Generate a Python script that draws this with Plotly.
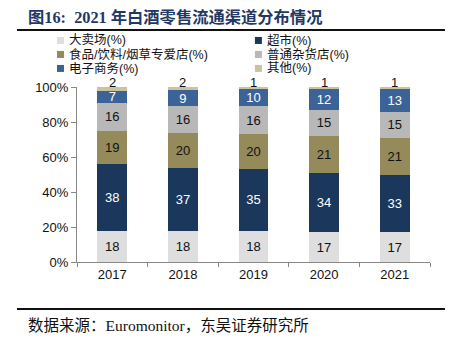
import plotly.graph_objects as go

years = ["2017", "2018", "2019", "2020", "2021"]

hypermarket = [18, 18, 18, 17, 17]
supermarket = [38, 37, 35, 34, 33]
specialist = [19, 20, 20, 21, 21]
grocery = [16, 16, 16, 15, 15]
ecommerce = [7, 9, 10, 12, 13]
others = [2, 2, 1, 1, 1]

series = [
    ("大卖场(%)", hypermarket, "#dedede", "#111111"),
    ("超市(%)", supermarket, "#1b375c", "#ffffff"),
    ("食品/饮料/烟草专爱店(%)", specialist, "#948a5a", "#111111"),
    ("普通杂货店(%)", grocery, "#b8b8b8", "#111111"),
    ("电子商务(%)", ecommerce, "#3b6398", "#ffffff"),
    ("其他(%)", others, "#cbc39d", "#111111"),
]

NUM_FONT = "Liberation Sans, Arial, sans-serif"
CJK_FONT = "Liberation Sans, Noto Sans CJK SC, sans-serif"

fig = go.Figure()
for i, (name, vals, color, tcolor) in enumerate(series):
    last = i == len(series) - 1
    fig.add_trace(go.Bar(
        x=years, y=vals, name=name,
        marker=dict(color=color, line=dict(width=0)),
        text=None if last else [str(v) for v in vals],
        textposition="none" if last else "inside",
        insidetextanchor="middle",
        textangle=0,
        textfont=dict(color=tcolor, size=13, family=NUM_FONT),
        cliponaxis=False,
        constraintext="none",
        showlegend=False,
    ))

# value labels for the thin top segment, sitting on the top of each stack
for k, v in enumerate(others):
    fig.add_annotation(x=k, y=100, text=str(v), showarrow=False,
                       xref="x", yref="y", yanchor="middle", yshift=5,
                       font=dict(size=13, color="#111111", family=NUM_FONT))

fig.update_layout(
    width=452, height=338,
    barmode="stack",
    barnorm="percent",
    bargap=0.58,
    paper_bgcolor="white", plot_bgcolor="white",
    margin=dict(l=77, r=22, t=87, b=76, autoexpand=False),
    font=dict(family=CJK_FONT, size=13, color="#111111"),
    showlegend=False,
    xaxis=dict(
        type="category", range=[-0.5, 4.5],
        showline=True, linecolor="#888888", linewidth=1,
        ticks="outside", tickson="boundaries", ticklen=4, tickcolor="#888888",
        tickfont=dict(size=13, family=NUM_FONT, color="#111111"),
        showgrid=False, zeroline=False,
    ),
    yaxis=dict(
        range=[0, 100], tickvals=[0, 20, 40, 60, 80, 100],
        ticktext=["0%", "20%", "40%", "60%", "80%", "100%"],
        showline=True, linecolor="#888888", linewidth=1,
        ticks="outside", ticklen=5, tickcolor="#888888",
        tickfont=dict(size=13, family=NUM_FONT, color="#111111"),
        showgrid=False, zeroline=False,
    ),
)

# Two-column legend above the plot area
legend_cols = [(-0.0567, -0.0283), (0.504, 0.5326)]
legend_rows = [1.266, 1.186, 1.106]
for i, (name, _, color, _) in enumerate(series):
    row, col = divmod(i, 2)
    sx, tx = legend_cols[col]
    yc = legend_rows[row]
    fig.add_shape(type="rect", xref="paper", yref="paper",
                  x0=sx, x1=sx + 0.0198, y0=yc - 0.02, y1=yc + 0.02,
                  fillcolor=color, line=dict(width=0))
    fig.add_annotation(text=name, xref="paper", yref="paper", x=tx, y=yc,
                       xanchor="left", yanchor="middle", showarrow=False,
                       font=dict(size=12.5, color="#111111", family=CJK_FONT))

# Title, rules and source note
fig.add_annotation(
    text="<b>图16:  2021 年白酒零售流通渠道分布情况</b>",
    xref="paper", yref="paper", x=-0.145, y=1.0, xanchor="left", yanchor="middle",
    yshift=70, showarrow=False,
    font=dict(size=16.3, color="#1f3864", family="Liberation Serif, Noto Sans CJK SC, serif"),
)
fig.add_shape(type="line", xref="paper", yref="paper", x0=-0.17, x1=1.0425, y0=1.326, y1=1.326,
              line=dict(color="#111111", width=2))
fig.add_shape(type="line", xref="paper", yref="paper", x0=-0.17, x1=1.0425, y0=-0.2686, y1=-0.2686,
              line=dict(color="#111111", width=2))
fig.add_annotation(
    text="数据来源：Euromonitor，东吴证券研究所",
    xref="paper", yref="paper", x=-0.145, y=0, xanchor="left", yanchor="middle",
    yshift=-63, showarrow=False,
    font=dict(size=15.5, color="#111111", family="Liberation Serif, Noto Sans CJK SC, serif"),
)

fig.write_html("out.html")
